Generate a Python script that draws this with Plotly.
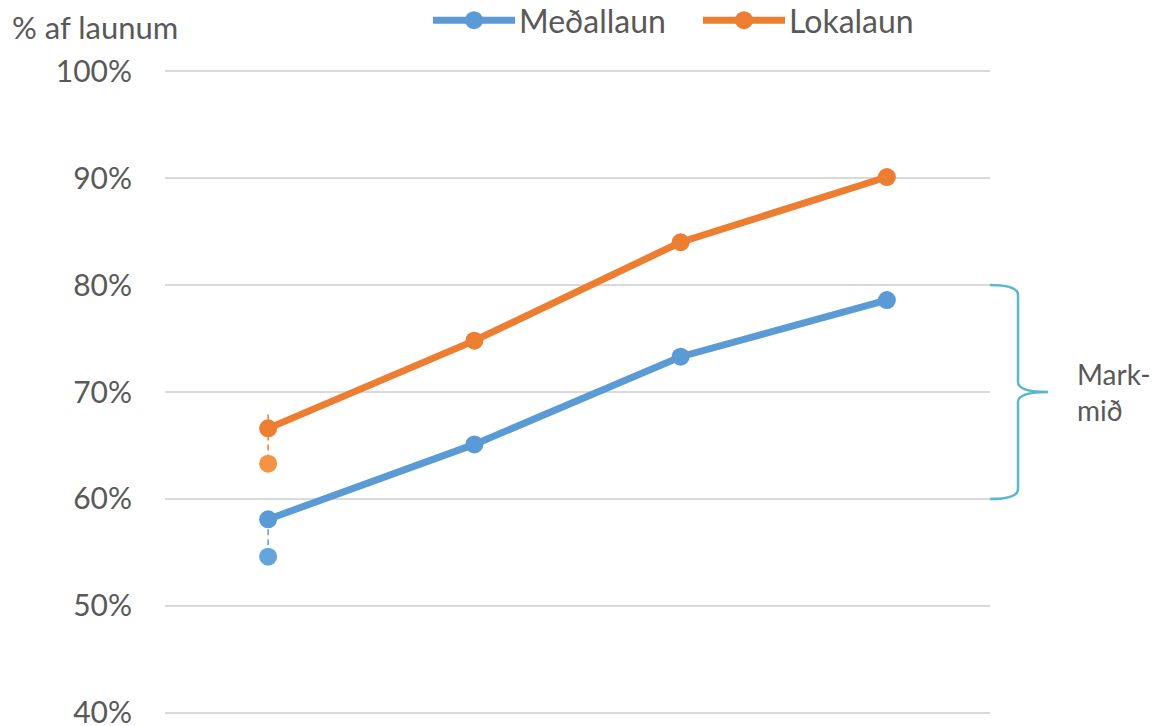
import plotly.graph_objects as go

categories = ["1", "2", "3", "4"]
medallaun = [58.1, 65.1, 73.3, 78.6]
lokalaun = [66.6, 74.8, 84.0, 90.1]
# lower alternative points at first category
medallaun_low = 54.6
lokalaun_low = 63.3
lokalaun_dash_top = 67.9
y_ticks = [40, 50, 60, 70, 80, 90, 100]
y_tick_labels = ["40%", "50%", "60%", "70%", "80%", "90%", "100%"]
target_range = [60, 80]
series_names = ["Meðallaun", "Lokalaun"]

BLUE = "#5B9BD5"
ORANGE = "#ED7D31"
BLUE_L = "#64A6DC"
ORANGE_L = "#F39343"
GRAY = "#595959"
FONT = "Lato"

fig = go.Figure()

fig.add_trace(go.Scatter(x=[categories[0], categories[0]], y=[lokalaun_dash_top, lokalaun_low],
                         mode="lines", line=dict(color=ORANGE, width=1.5, dash="6px,4px"),
                         showlegend=False, hoverinfo="skip"))
fig.add_trace(go.Scatter(x=[categories[0], categories[0]], y=[medallaun[0], medallaun_low],
                         mode="lines", line=dict(color=BLUE, width=1.5, dash="6px,4px"),
                         showlegend=False, hoverinfo="skip"))
fig.add_trace(go.Scatter(x=[categories[0]], y=[lokalaun_low], mode="markers",
                         marker=dict(color=ORANGE_L, size=18), showlegend=False))
fig.add_trace(go.Scatter(x=[categories[0]], y=[medallaun_low], mode="markers",
                         marker=dict(color=BLUE_L, size=18), showlegend=False))

fig.add_trace(go.Scatter(x=categories, y=medallaun, mode="lines+markers", name=series_names[0],
                         line=dict(color=BLUE, width=7), marker=dict(color=BLUE, size=18),
                         showlegend=False))
fig.add_trace(go.Scatter(x=categories, y=lokalaun, mode="lines+markers", name=series_names[1],
                         line=dict(color=ORANGE, width=7), marker=dict(color=ORANGE, size=18),
                         showlegend=False))

W, H = 1159, 726
L, R_px = 165, 990
PAD = 0.2
UNIT = (713 - 71) / 60.0
T_px = 71 - PAD * UNIT
B_px = 713 + PAD * UNIT


def px(xp):
    return (xp - L) / (R_px - L)


def py(yp):
    return (B_px - yp) / (B_px - T_px)


# brace (in paper coords, pixel-derived)
hi_p, lo_p = py(285), py(499)
mid_p = (hi_p + lo_p) / 2
d = 10 / (B_px - T_px)
x0, x1, x2 = px(990), px(1018), px(1048)
path = (f"M {x0},{hi_p} Q {x1},{hi_p} {x1},{hi_p - d} L {x1},{mid_p + d} "
        f"Q {x1},{mid_p} {x2},{mid_p} Q {x1},{mid_p} {x1},{mid_p - d} "
        f"L {x1},{lo_p + d} Q {x1},{lo_p} {x0},{lo_p}")
fig.add_shape(type="path", path=path, xref="paper", yref="paper",
              line=dict(color="#5BB8CC", width=2.5))

fig.add_annotation(text="Mark-<br>mið", x=px(1075), y=mid_p, xref="paper", yref="paper",
                   xanchor="left", yanchor="middle", showarrow=False, align="left",
                   font=dict(family=FONT, size=28, color=GRAY))
fig.add_annotation(text="% af launum", x=px(10), y=py(27), xref="paper", yref="paper",
                   xanchor="left", yanchor="middle", showarrow=False,
                   font=dict(family=FONT, size=31, color=GRAY))

# manual legend
legend_items = [(series_names[0], BLUE, 433, 515), (series_names[1], ORANGE, 703, 785)]
ly = py(20)
r = 9
for name, col, xa, xb in legend_items:
    fig.add_shape(type="line", x0=px(xa), x1=px(xb), y0=ly, y1=ly, xref="paper", yref="paper",
                  line=dict(color=col, width=7))
    xc = (xa + xb) / 2
    fig.add_shape(type="circle", x0=px(xc - r), x1=px(xc + r), y0=py(20 + r), y1=py(20 - r),
                  xref="paper", yref="paper", fillcolor=col, line=dict(color=col, width=0))
    fig.add_annotation(text=name, x=px(xb + 2), y=ly, xref="paper", yref="paper",
                       xanchor="left", yanchor="middle", showarrow=False,
                       font=dict(family=FONT, size=32, color=GRAY))

fig.update_layout(
    width=W, height=H,
    margin=dict(l=L, r=W - R_px, t=T_px, b=H - B_px, pad=0, autoexpand=False),
    paper_bgcolor="white", plot_bgcolor="white",
    font=dict(family=FONT, color=GRAY),
    showlegend=False,
    xaxis=dict(type="category", showticklabels=False, showgrid=False, zeroline=False,
               showline=False, ticks="", range=[-0.5, 3.5], fixedrange=True, automargin=False),
    yaxis=dict(range=[40 - PAD, 100 + PAD], tickvals=y_ticks, ticktext=y_tick_labels,
               showgrid=True, gridcolor="#D9D9D9", gridwidth=1.5, zeroline=False,
               showline=False, ticks="", ticklabelstandoff=32, automargin=False,
               ticklabeloverflow="allow",
               tickfont=dict(family=FONT, size=30, color=GRAY)),
)

fig.write_html("out.html")
